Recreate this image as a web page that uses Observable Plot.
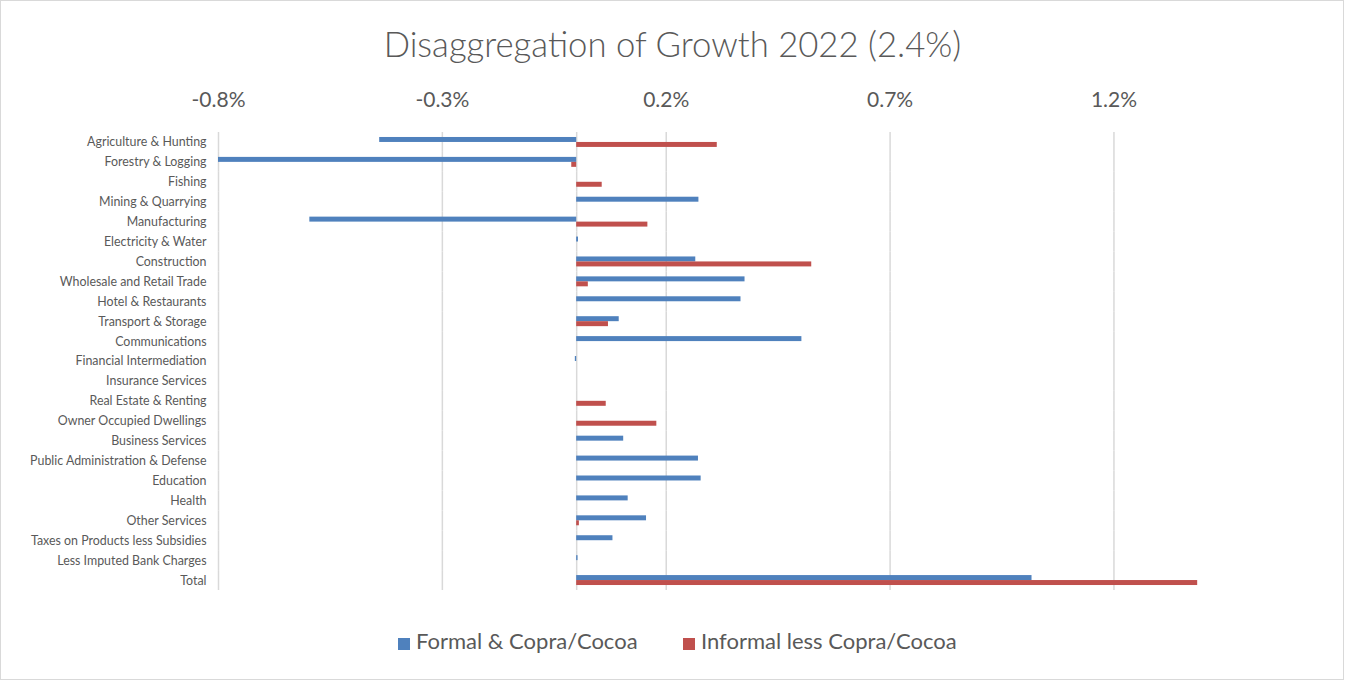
<!DOCTYPE html>
<html>
<head>
<meta charset="utf-8">
<script src="https://cdn.jsdelivr.net/npm/d3@7"></script>
<script src="https://cdn.jsdelivr.net/npm/@observablehq/plot@0.6"></script>
<style>
  html, body { margin: 0; padding: 0; background: #fff; }
  #chart { position: relative; width: 1345px; height: 681px; overflow: hidden; font-family: Lato, "Open Sans", sans-serif; color: #595959; }
  #border { position: absolute; left: 0; top: 0; width: 1344px; height: 680px; box-sizing: border-box; border: 1.5px solid #d9d9d9; pointer-events: none; }
  #title { position: absolute; left: 0; top: 22px; width: 1345px; height: 44px; line-height: 44px; text-align: center; font-size: 34.7px; font-weight: 300; color: #595959; }
  #plot { position: absolute; left: 0; top: 0; }
  .leg { position: absolute; top: 627px; height: 28px; line-height: 28px; font-size: 22px; color: #595959; white-space: nowrap; }
  .sw { display: inline-block; width: 12px; height: 12px; margin-right: 6px; vertical-align: -1px; }
</style>
</head>
<body>
<div id="chart">
  <div id="plot"></div>
  <div id="title">Disaggregation of Growth 2022 (2.4%)</div>
  <div id="legend"></div>
  <div id="border"></div>
</div>
<script>
const categories = [
  "Agriculture & Hunting", "Forestry & Logging", "Fishing", "Mining & Quarrying",
  "Manufacturing", "Electricity & Water", "Construction", "Wholesale and Retail Trade",
  "Hotel & Restaurants", "Transport & Storage", "Communications", "Financial Intermediation",
  "Insurance Services", "Real Estate & Renting", "Owner Occupied Dwellings", "Business Services",
  "Public Administration & Defense", "Education", "Health", "Other Services",
  "Taxes on Products less Subsidies", "Less Imputed Bank Charges", "Total"
];
const seriesNames = ["Formal & Copra/Cocoa", "Informal less Copra/Cocoa"];
const seriesColors = ["#4f81bd", "#c0504d"];
// values in percent
const formal = [-0.44, -0.80, 0, 0.273, -0.596, 0.004, 0.266, 0.376, 0.367, 0.095, 0.503, -0.003, 0, 0, 0, 0.105, 0.272, 0.278, 0.115, 0.156, 0.081, 0.003, 1.017];
const informal = [0.314, -0.011, 0.057, 0, 0.159, 0, 0.525, 0.026, 0, 0.071, 0, 0, 0, 0.066, 0.179, 0, 0, 0, 0, 0.006, 0, 0, 1.387];
const xTicks = [-0.8, -0.3, 0.2, 0.7, 1.2];
const xDomain = [-0.8, 1.4];

const rows = categories.flatMap((c, i) => [
  {cat: c, series: seriesNames[0], value: formal[i]},
  {cat: c, series: seriesNames[1], value: informal[i]}
]);
const fmt = d => d.toFixed(1) + "%";

const chart = Plot.plot({
  width: 1345,
  height: 610,
  marginTop: 132,
  marginBottom: 20,
  marginLeft: 218,
  marginRight: 142,
  style: {fontFamily: "Lato, 'Open Sans', sans-serif", color: "#595959", background: "transparent"},
  x: {domain: xDomain, axis: null},
  fy: {domain: categories, padding: 0, round: false, axis: null},
  y: {domain: seriesNames, axis: null, paddingInner: 0, paddingOuter: 1, round: false},
  color: {domain: seriesNames, range: seriesColors},
  marks: [
    Plot.gridX(xTicks, {stroke: "#d9d9d9", strokeOpacity: 1, strokeWidth: 1.5}),
    Plot.ruleX([0], {stroke: "#d9d9d9", strokeOpacity: 1, strokeWidth: 1.5}),
    Plot.barX(rows, {x: "value", y: "series", fy: "cat", fill: "series", inset: 0}),
    Plot.axisX(xTicks, {anchor: "top", tickSize: 0, tickPadding: 26, tickFormat: fmt, fontSize: 21, fill: "#595959", label: null}),
    Plot.axisFy({anchor: "left", tickSize: 0, tickPadding: 12, fontSize: 12.4, fill: "#595959", label: null})
  ]
});
document.getElementById("plot").appendChild(chart);

const legend = document.getElementById("legend");
const legLeft = [398, 683];
seriesNames.forEach((name, i) => {
  const item = document.createElement("div");
  item.className = "leg";
  item.style.left = legLeft[i] + "px";
  const sw = document.createElement("span");
  sw.className = "sw";
  sw.style.background = seriesColors[i];
  item.appendChild(sw);
  item.appendChild(document.createTextNode(name));
  legend.appendChild(item);
});
</script>
</body>
</html>
